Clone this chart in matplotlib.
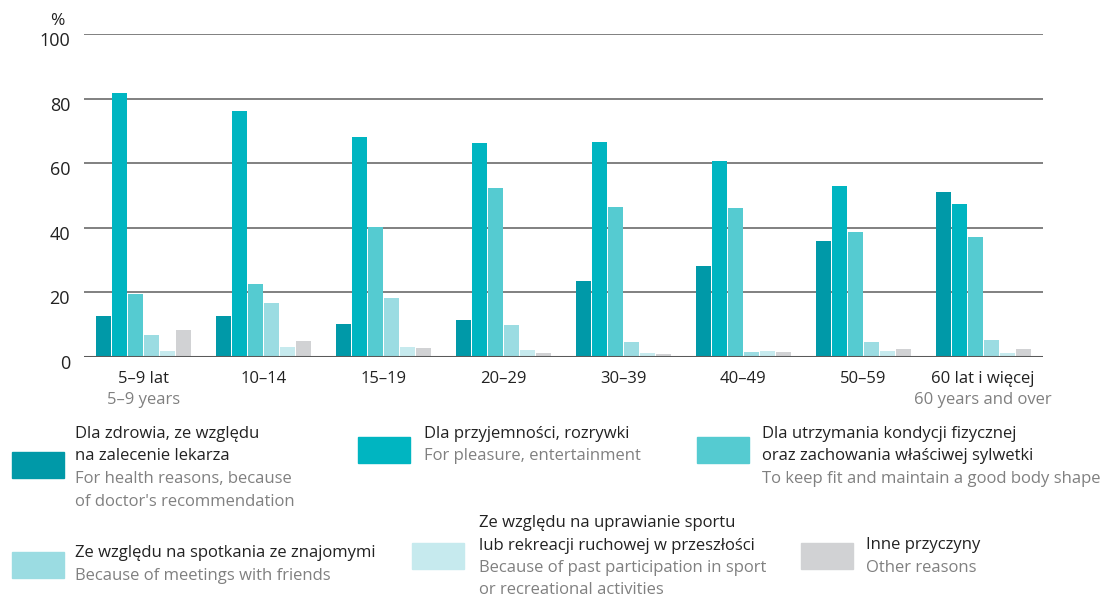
import numpy as np
import matplotlib
matplotlib.use("Agg")
import matplotlib.pyplot as plt
from matplotlib.patches import Rectangle
import matplotlib.transforms as mtransforms

plt.rcParams['font.family'] = ['Open Sans', 'DejaVu Sans']

W, H = 1106, 599

groups_pl = ["5–9 lat", "10–14", "15–19", "20–29", "30–39", "40–49", "50–59", "60 lat i więcej"]
groups_en = {0: "5–9 years", 7: "60 years and over"}

health = [12.7, 12.7, 10.2, 11.5, 23.5, 28.2, 35.9, 51.1]
pleasure = [81.7, 76.2, 68.1, 66.3, 66.6, 60.7, 52.9, 47.4]
fitness = [19.5, 22.6, 40.2, 52.3, 46.4, 46.1, 38.7, 37.2]
friends = [6.8, 16.7, 18.3, 9.9, 4.6, 1.5, 4.6, 5.3]
past_sport = [1.9, 3.1, 3.1, 2.2, 1.2, 1.9, 1.9, 1.2]
other = [8.4, 5.0, 2.8, 1.2, 0.8, 1.5, 2.5, 2.5]

series = [health, pleasure, fitness, friends, past_sport, other]
colors = ["#0099a8", "#00b5c1", "#55cbd1", "#9bdce2", "#c6eaee", "#d1d2d4"]

legend_pl = [
    ["Dla zdrowia, ze względu", "na zalecenie lekarza"],
    ["Dla przyjemności, rozrywki"],
    ["Dla utrzymania kondycji fizycznej", "oraz zachowania właściwej sylwetki"],
    ["Ze względu na spotkania ze znajomymi"],
    ["Ze względu na uprawianie sportu", "lub rekreacji ruchowej w przeszłości"],
    ["Inne przyczyny"],
]
legend_en = [
    ["For health reasons, because", "of doctor's recommendation"],
    ["For pleasure, entertainment"],
    ["To keep fit and maintain a good body shape"],
    ["Because of meetings with friends"],
    ["Because of past participation in sport", "or recreational activities"],
    ["Other reasons"],
]

fig = plt.figure(figsize=(W / 100, H / 100), dpi=100)
ax = fig.add_axes([84 / W, 1 - 357 / H, (1043 - 84) / W, (357 - 34) / H])

x = np.arange(len(groups_pl))
pitch = 16 / 120
width = 15 / 120
for i, vals in enumerate(series):
    ax.bar(x + (i - 2.5) * pitch, vals, width=width, color=colors[i], zorder=3)

ax.set_xlim(-0.5, len(groups_pl) - 0.5)
ax.set_ylim(0, 100)
ax.set_yticks(range(0, 101, 20))
ax.yaxis.grid(True, color="#808080", lw=1.4, zorder=0)
ax.axhline(0, color="#5a5a5a", lw=2.2, zorder=4)
for s in ax.spines.values():
    s.set_visible(False)
ax.tick_params(axis="y", length=0, pad=10, labelsize=13, labelcolor="#222222")
ax.tick_params(axis="x", length=0, pad=10, labelsize=12, labelcolor="#222222")
ax.set_xticks(x)
ax.set_xticklabels(groups_pl)

# y labels sit a little below their gridlines in the original
shift = mtransforms.ScaledTranslation(0, -5 / 100, fig.dpi_scale_trans)
for lab in ax.get_yticklabels():
    lab.set_transform(lab.get_transform() + shift)

trans = mtransforms.blended_transform_factory(ax.transData, ax.transAxes)
for k, label in groups_en.items():
    ax.text(k, -43 / (357 - 34), label, transform=trans, ha="center", va="center",
            fontsize=12, color="#808080")

fig.text(57 / W, 1 - 21 / H, "%", ha="center", va="center", fontsize=12.5, color="#222222")

# legend: patch box and text lines, placed in pixel coords
def px(xp, yp):
    return xp / W, 1 - yp / H

patch_pos = [(12, 452), (358, 437), (697, 437), (12, 552), (412, 543), (801, 543)]
text_pos = [(75, 434), (424, 434), (762, 434), (75, 553), (479, 523), (866, 545)]
line_h = 22.5

for i in range(6):
    pxx, pyy = patch_pos[i]
    fx, fy = px(pxx, pyy + 26)
    fig.patches.append(Rectangle((fx, fy), 52 / W, 26 / H, transform=fig.transFigure,
                                 color=colors[i], figure=fig))
    tx, ty = text_pos[i]
    lines = [(t, "#222222") for t in legend_pl[i]] + [(t, "#808080") for t in legend_en[i]]
    for j, (t, c) in enumerate(lines):
        fx, fy = px(tx, ty + j * line_h)
        fig.text(fx, fy, t, ha="left", va="center", fontsize=12, color=c)

fig.savefig("out.png", dpi=100)
